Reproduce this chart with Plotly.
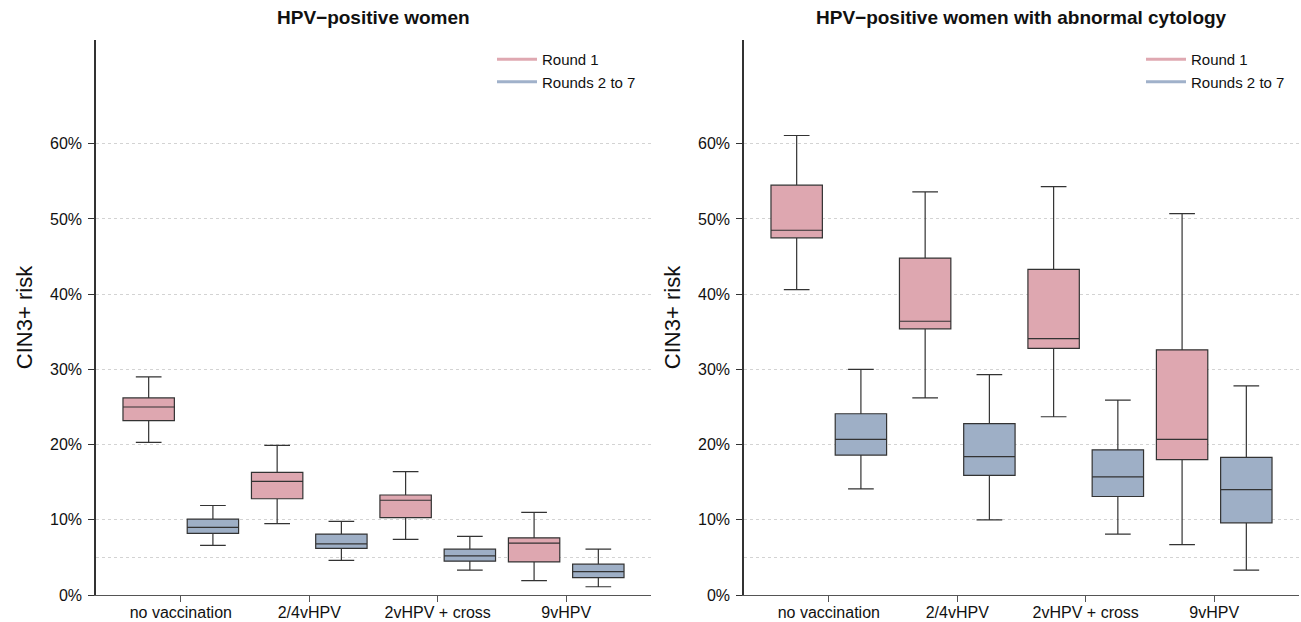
import plotly.graph_objects as go

categories = ["no vaccination", "2/4vHPV", "2vHPV + cross", "9vHPV"]
series_names = ["Round 1", "Rounds 2 to 7"]
panel_titles = ["HPV\u2212positive women", "HPV\u2212positive women with abnormal cytology"]

# Panel 1: HPV-positive women (CIN3+ risk, fractions)
p1_r1_low = [0.203, 0.095, 0.074, 0.019]
p1_r1_q1 = [0.232, 0.128, 0.103, 0.044]
p1_r1_med = [0.250, 0.151, 0.126, 0.069]
p1_r1_q3 = [0.262, 0.163, 0.133, 0.076]
p1_r1_high = [0.290, 0.199, 0.164, 0.110]

p1_r2_low = [0.066, 0.046, 0.033, 0.011]
p1_r2_q1 = [0.082, 0.062, 0.045, 0.023]
p1_r2_med = [0.090, 0.068, 0.052, 0.031]
p1_r2_q3 = [0.101, 0.081, 0.061, 0.041]
p1_r2_high = [0.119, 0.098, 0.078, 0.061]

# Panel 2: HPV-positive women with abnormal cytology
p2_r1_low = [0.406, 0.262, 0.237, 0.067]
p2_r1_q1 = [0.475, 0.354, 0.328, 0.180]
p2_r1_med = [0.485, 0.364, 0.341, 0.207]
p2_r1_q3 = [0.545, 0.448, 0.433, 0.326]
p2_r1_high = [0.611, 0.536, 0.543, 0.507]

p2_r2_low = [0.141, 0.100, 0.081, 0.033]
p2_r2_q1 = [0.186, 0.159, 0.131, 0.096]
p2_r2_med = [0.207, 0.184, 0.157, 0.140]
p2_r2_q3 = [0.241, 0.228, 0.193, 0.183]
p2_r2_high = [0.300, 0.293, 0.259, 0.278]

fill_colors = ["#DEA7B0", "#9EAFC6"]
legend_line_colors = ["#DFA8B1", "#A0B1CA"]
edge = "#333333"

panels = [
    [(p1_r1_low, p1_r1_q1, p1_r1_med, p1_r1_q3, p1_r1_high),
     (p1_r2_low, p1_r2_q1, p1_r2_med, p1_r2_q3, p1_r2_high)],
    [(p2_r1_low, p2_r1_q1, p2_r1_med, p2_r1_q3, p2_r1_high),
     (p2_r2_low, p2_r2_q1, p2_r2_med, p2_r2_q3, p2_r2_high)],
]

fig = go.Figure()
axes = [("x", "y"), ("x2", "y2")]
for pi, panel in enumerate(panels):
    xa, ya = axes[pi]
    for si, (lo, q1, med, q3, hi) in enumerate(panel):
        fig.add_trace(go.Box(
            x=categories, q1=q1, median=med, q3=q3,
            lowerfence=lo, upperfence=hi,
            name=series_names[si], offsetgroup=f"g{si}",
            fillcolor=fill_colors[si],
            line=dict(color=edge, width=1.2),
            whiskerwidth=0.5, boxpoints=False,
            showlegend=False, xaxis=xa, yaxis=ya, hoverinfo="skip",
        ))
    for si in range(2):
        fig.add_trace(go.Scatter(
            x=[None], y=[None], mode="lines", name=series_names[si],
            line=dict(color=legend_line_colors[si], width=3),
            xaxis=xa, yaxis=ya, showlegend=True,
            legend="legend" if pi == 0 else "legend2",
        ))

font_family = "Liberation Sans, Arial, sans-serif"
L, R, T, B = 96, 2, 40, 27
W = 1301 - L - R
H = 622 - T - B
d1 = [0, 555 / W]
d2 = [(744 - L) / W, 1]

xcommon = dict(
    type="category", categoryorder="array", categoryarray=categories,
    range=[-0.66, 3.66], showline=True, linecolor="#555555", linewidth=1.2,
    ticks="outside", ticklen=6, tickcolor="#555555", showgrid=False,
    ticklabelstandoff=-3,
    zeroline=False, tickfont=dict(size=16, color="#111111"), automargin=False,
)
ycommon = dict(
    range=[0, 0.738], tickvals=[0, 0.1, 0.2, 0.3, 0.4, 0.5, 0.6],
    tickformat=".0%", showline=True, linecolor="#333333", linewidth=1.5,
    ticks="outside", ticklen=6, tickcolor="#333333", ticklabelstandoff=3,
    showgrid=True, gridcolor="#D3D3D3", griddash="3px,3px", gridwidth=1,
    zeroline=False, tickfont=dict(size=16, color="#111111"), automargin=False,
    title=dict(text="CIN3+ risk", font=dict(size=22, color="#111111"), standoff=11),
    minor=dict(tickvals=[0.05], showgrid=True, gridcolor="#D3D3D3",
               griddash="3px,3px", gridwidth=1, ticklen=0),
)

legend_common = dict(
    xanchor="left", yanchor="top", xref="paper", yref="paper",
    y=1 - (43 - T) / H, font=dict(size=15), bgcolor="rgba(0,0,0,0)",
    tracegroupgap=0, itemwidth=40,
)

fig.update_layout(
    width=1301, height=622,
    margin=dict(l=L, r=R, t=T, b=B, autoexpand=False),
    paper_bgcolor="white", plot_bgcolor="white",
    font=dict(family=font_family, color="#111111"),
    boxmode="group", boxgap=0, boxgroupgap=0.2,
    xaxis=dict(domain=d1, anchor="y", **xcommon),
    xaxis2=dict(domain=d2, anchor="y2", **xcommon),
    yaxis=dict(domain=[0, 1], anchor="x", **ycommon),
    yaxis2=dict(domain=[0, 1], anchor="x2", **ycommon),
    legend=dict(x=(492 - L) / W, **legend_common),
    legend2=dict(x=(1141 - L) / W, **legend_common),
    annotations=[
        dict(text=f"<b>{panel_titles[0]}</b>", x=(d1[0] + d1[1]) / 2, y=1 + (T - 18) / H,
             xref="paper", yref="paper", xanchor="center", yanchor="middle",
             showarrow=False, font=dict(size=19)),
        dict(text=f"<b>{panel_titles[1]}</b>", x=(d2[0] + d2[1]) / 2, y=1 + (T - 18) / H,
             xref="paper", yref="paper", xanchor="center", yanchor="middle",
             showarrow=False, font=dict(size=19)),
    ],
)

fig.write_html("out.html", config={"displayModeBar": False},
               post_script="document.body.style.margin='0';document.body.style.overflow='hidden';")
